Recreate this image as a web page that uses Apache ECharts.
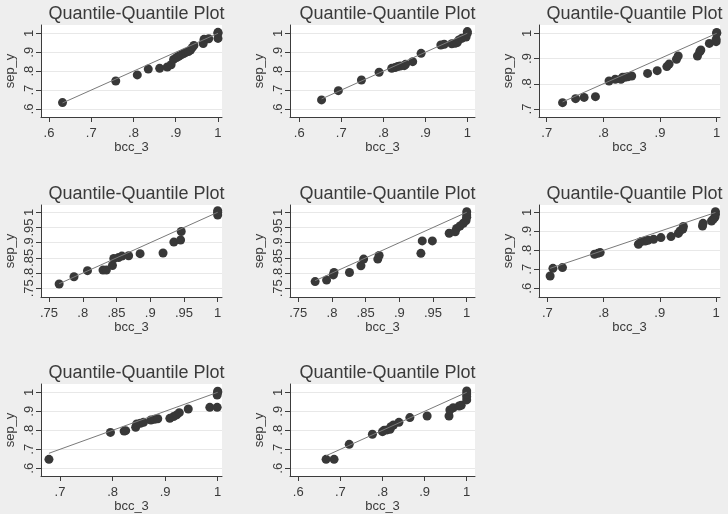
<!DOCTYPE html>
<html>
<head>
<meta charset="utf-8">
<script src="https://cdn.jsdelivr.net/npm/echarts@6/dist/echarts.min.js"></script>
<style>
html, body { margin: 0; padding: 0; background: #eeeeee; }
#main { width: 728px; height: 514px; }
</style>
</head>
<body>
<div id="main"></div>
<script>
// quantiles: bcc_3 (x) against sep_y (y), one pair of arrays per panel
var qq1X = [0.632, 0.758, 0.809, 0.835, 0.862, 0.880, 0.889, 0.895, 0.902, 0.907, 0.913, 0.919, 0.924, 0.930, 0.935, 0.939, 0.943, 0.965, 0.967, 0.978, 1.0, 1.0, 1.0]
var qq1Y = [0.634, 0.748, 0.780, 0.811, 0.815, 0.822, 0.834, 0.862, 0.872, 0.879, 0.886, 0.893, 0.899, 0.904, 0.912, 0.924, 0.936, 0.946, 0.968, 0.971, 0.973, 1.0, 1.005]

var qq2X = [0.653, 0.693, 0.748, 0.790, 0.820, 0.828, 0.834, 0.840, 0.850, 0.853, 0.870, 0.890, 0.937, 0.945, 0.963, 0.971, 0.976, 0.980, 0.987, 0.997, 1.0, 1.0]
var qq2Y = [0.648, 0.697, 0.753, 0.794, 0.815, 0.819, 0.824, 0.827, 0.829, 0.836, 0.850, 0.894, 0.938, 0.942, 0.945, 0.947, 0.951, 0.965, 0.974, 0.980, 1.0, 1.009]

var qq3X = [0.728, 0.751, 0.766, 0.786, 0.810, 0.821, 0.831, 0.834, 0.838, 0.843, 0.850, 0.878, 0.895, 0.912, 0.916, 0.929, 0.932, 0.966, 0.970, 0.972, 0.987, 0.999, 0.999, 1.0, 1.0]
var qq3Y = [0.725, 0.741, 0.746, 0.749, 0.811, 0.818, 0.818, 0.826, 0.826, 0.828, 0.831, 0.841, 0.852, 0.868, 0.878, 0.897, 0.910, 0.910, 0.927, 0.934, 0.960, 0.967, 0.976, 1.0, 1.003]

var qq4X = [0.765, 0.787, 0.807, 0.830, 0.835, 0.844, 0.846, 0.853, 0.858, 0.868, 0.885, 0.919, 0.935, 0.945, 0.946, 1.0, 1.0, 1.0]
var qq4Y = [0.764, 0.788, 0.808, 0.810, 0.810, 0.825, 0.848, 0.851, 0.856, 0.857, 0.864, 0.866, 0.902, 0.909, 0.937, 0.991, 1.0, 1.005]

var qq5X = [0.775, 0.792, 0.802, 0.803, 0.826, 0.843, 0.847, 0.868, 0.870, 0.932, 0.934, 0.949, 0.974, 0.983, 0.985, 0.990, 0.995, 0.999, 1.0, 1.0, 1.0]
var qq5Y = [0.772, 0.777, 0.794, 0.802, 0.802, 0.824, 0.846, 0.846, 0.858, 0.865, 0.906, 0.906, 0.931, 0.936, 0.947, 0.955, 0.964, 0.973, 0.984, 0.991, 1.002]

var qq6X = [0.705, 0.710, 0.727, 0.784, 0.790, 0.794, 0.862, 0.867, 0.874, 0.879, 0.889, 0.902, 0.920, 0.933, 0.936, 0.941, 0.942, 0.976, 0.977, 0.992, 0.995, 0.998, 0.999, 0.999]
var qq6Y = [0.665, 0.705, 0.709, 0.779, 0.784, 0.788, 0.832, 0.846, 0.849, 0.853, 0.858, 0.867, 0.872, 0.889, 0.902, 0.912, 0.925, 0.928, 0.942, 0.954, 0.963, 0.974, 0.989, 1.003]

var qq7X = [0.679, 0.796, 0.822, 0.825, 0.844, 0.846, 0.853, 0.859, 0.873, 0.880, 0.886, 0.909, 0.916, 0.922, 0.927, 0.944, 0.985, 0.999, 0.999, 1.0, 1.0]
var qq7Y = [0.647, 0.789, 0.796, 0.798, 0.816, 0.833, 0.837, 0.842, 0.854, 0.858, 0.861, 0.863, 0.872, 0.881, 0.893, 0.912, 0.921, 0.921, 0.986, 1.0, 1.006]

var qq8X = [0.666, 0.685, 0.721, 0.776, 0.800, 0.804, 0.811, 0.818, 0.820, 0.826, 0.839, 0.865, 0.906, 0.958, 0.960, 0.968, 0.982, 0.987, 1.0, 1.0, 1.0, 1.0]
var qq8Y = [0.647, 0.647, 0.726, 0.779, 0.793, 0.800, 0.802, 0.805, 0.819, 0.828, 0.842, 0.867, 0.875, 0.875, 0.907, 0.919, 0.928, 0.932, 0.960, 0.977, 0.991, 1.007]

// tick labels
var ticksTenth6 = [0.6, 0.7, 0.8, 0.9, 1]
var ticksTenth7 = [0.7, 0.8, 0.9, 1]
var ticksTwentieth = [0.75, 0.8, 0.85, 0.9, 0.95, 1]

var titleText = 'Quantile-Quantile Plot'
var xName = 'bcc_3'
var yName = 'sep_y'

var xData = [qq1X, qq2X, qq3X, qq4X, qq5X, qq6X, qq7X, qq8X]
var yData = [qq1Y, qq2Y, qq3Y, qq4Y, qq5Y, qq6Y, qq7Y, qq8Y]
var xTicks = [ticksTenth6, ticksTenth6, ticksTenth7, ticksTwentieth, ticksTwentieth, ticksTenth7, ticksTenth7, ticksTenth6]
var yTicks = [ticksTenth6, ticksTenth6, ticksTenth7, ticksTwentieth, ticksTwentieth, ticksTenth6, ticksTenth6, ticksTenth6]

// layout of each panel (pixels) and its axis ranges
var panels = [
  {left: 41,  top: 25,  width: 181, height: 92, xMin: 0.5811, xMax: 1.0095, yMin: 0.5577, yMax: 1.0439},
  {left: 290, top: 25,  width: 185, height: 92, xMin: 0.5779, xMax: 1.0183, yMin: 0.5577, yMax: 1.0439},
  {left: 539, top: 25,  width: 181, height: 92, xMin: 0.6864, xMax: 1.0058, yMin: 0.6683, yMax: 1.0329},
  {left: 41,  top: 205, width: 181, height: 92, xMin: 0.7381, xMax: 1.0064, yMin: 0.7214, yMax: 1.0240},
  {left: 290, top: 205, width: 185, height: 92, xMin: 0.7377, xMax: 1.0123, yMin: 0.7214, yMax: 1.0240},
  {left: 539, top: 205, width: 181, height: 92, xMin: 0.6852, xMax: 1.0071, yMin: 0.5542, yMax: 1.0384},
  {left: 41,  top: 384, width: 181, height: 92, xMin: 0.6639, xMax: 1.0082, yMin: 0.5595, yMax: 1.0437},
  {left: 290, top: 384, width: 185, height: 92, xMin: 0.5803, xMax: 1.0197, yMin: 0.5595, yMax: 1.0437}
]

var font = '"Liberation Sans", Arial, sans-serif'
var axisColor = '#3c3c3c'

function fmtTick(v) {
  return String(+Number(v).toFixed(2)).replace(/^0\./, '.')
}

var grid = [], xAxis = [], yAxis = [], title = [], series = []

panels.forEach(function (p, i) {
  grid.push({
    left: p.left, top: p.top, width: p.width, height: p.height,
    show: true, backgroundColor: '#ffffff', borderWidth: 0,
    containLabel: false
  })
  title.push({
    text: titleText,
    left: p.left + p.width / 2,
    top: p.top - 25,
    textAlign: 'center',
    textStyle: {fontFamily: font, fontSize: 18, fontWeight: 'normal', color: '#3a3a3a'}
  })
  xAxis.push({
    type: 'value', gridIndex: i, min: p.xMin, max: p.xMax,
    name: xName, nameLocation: 'middle', nameGap: 24,
    nameTextStyle: {fontFamily: font, fontSize: 13, color: '#3a3a3a'},
    axisLine: {show: true, onZero: false, lineStyle: {color: axisColor, width: 1}},
    axisTick: {show: true, length: 5, customValues: xTicks[i], lineStyle: {color: axisColor}},
    axisLabel: {customValues: xTicks[i], margin: 10, fontFamily: font, fontSize: 13, color: '#3a3a3a', formatter: fmtTick},
    splitLine: {show: false}
  })
  yAxis.push({
    type: 'value', gridIndex: i, min: p.yMin, max: p.yMax,
    name: yName, nameLocation: 'middle', nameGap: 24, nameRotate: 90,
    nameTextStyle: {fontFamily: font, fontSize: 13, color: '#3a3a3a'},
    axisLine: {show: true, onZero: false, lineStyle: {color: axisColor, width: 1}},
    axisTick: {show: true, length: 5, customValues: yTicks[i], lineStyle: {color: axisColor}},
    axisLabel: {customValues: yTicks[i], rotate: 90, margin: 5, fontFamily: font, fontSize: 13, color: '#3a3a3a', formatter: fmtTick, hideOverlap: false},
    splitLine: {show: true, lineStyle: {color: '#e8e8e8', width: 1}}
  })

  var xs = xData[i], ys = yData[i]
  var pts = xs.map(function (x, k) { return [x, ys[k]] })
  var lo = Math.min.apply(null, xs), hi = Math.max.apply(null, xs)

  series.push({
    type: 'scatter', xAxisIndex: i, yAxisIndex: i,
    data: pts, symbol: 'circle', symbolSize: 9,
    itemStyle: {color: '#383838', opacity: 1},
    z: 2
  })
  // 45-degree reference line over the range of bcc_3
  series.push({
    type: 'line', xAxisIndex: i, yAxisIndex: i,
    data: [[lo, lo], [hi, hi]], showSymbol: false, symbol: 'none',
    lineStyle: {color: '#7a7a7a', width: 1},
    silent: true, z: 3
  })
})

var chart = echarts.init(document.getElementById('main'), null, {renderer: 'canvas'})
chart.setOption({
  backgroundColor: '#eeeeee',
  animation: false,
  title: title,
  grid: grid,
  xAxis: xAxis,
  yAxis: yAxis,
  series: series
})
</script>
</body>
</html>
